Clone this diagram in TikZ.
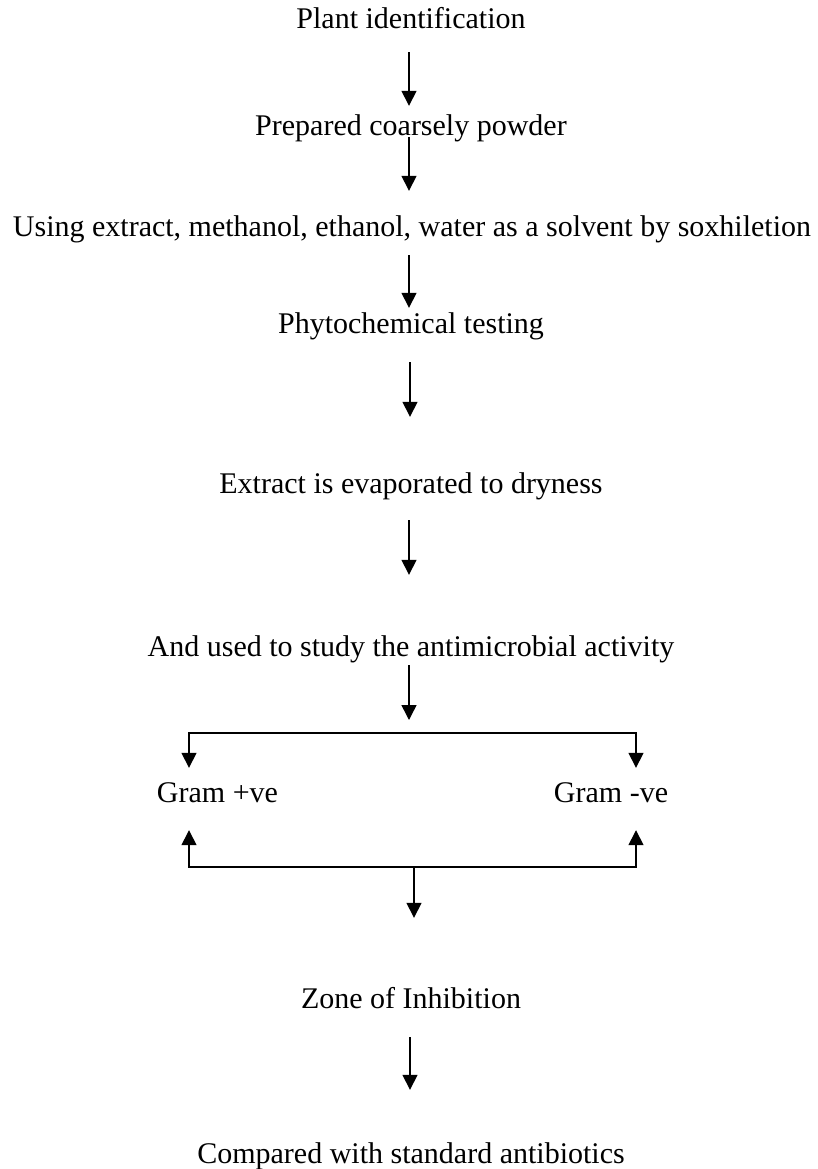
\documentclass[tikz,border=0pt]{standalone}
\usepackage{fontspec}
\setmainfont{Liberation Serif}
\usepackage{tikz}
\usetikzlibrary{arrows.meta,calc,positioning}

\begin{document}
\begin{tikzpicture}[x=1pt,y=-1pt,
  lbl/.style={anchor=base,inner sep=0pt,text height=20pt,text depth=6pt,font=\fontsize{30}{36}\selectfont},
  arr/.style={line width=1.5pt,-{Triangle[length=15pt,width=15pt]}},
  arrtwo/.style={line width=1.5pt,{Triangle[length=15pt,width=15pt]}-{Triangle[length=15pt,width=15pt]}}]
\useasboundingbox (0,0) rectangle (817,1169);
\node[lbl] (plant) at (411,29){Plant identification};
\node[lbl] (prep) at (411,136){Prepared coarsely powder};
\node[lbl] (using) at (412,236){Using extract, methanol, ethanol, water as a solvent by soxhiletion};
\node[lbl] (phyto) at (411,333){Phytochemical testing};
\node[lbl] (evap) at (411,493){Extract is evaporated to dryness};
\node[lbl] (study) at (411,656){And used to study the antimicrobial activity};
\node[lbl] (gpos) at (217.5,802){Gram +ve};
\node[lbl] (gneg) at (611,802){Gram -ve};
\node[lbl] (zone) at (411,1008){Zone of Inhibition};
\node[lbl] (comp) at (411,1163){Compared with standard antibiotics};
\coordinate (split) at (409,733);
\coordinate (join) at (414,867);
% main column
\draw[arr,shorten <=17pt,shorten >=10pt] ([xshift=-2pt]plant.south) -- ([xshift=-2pt]prep.north);
\draw[arr,shorten <=-5pt,shorten >=25pt] ([xshift=-2pt]prep.south) -- ([xshift=-3pt]using.north);
\draw[arr,shorten <=13pt,shorten >=5pt] ([xshift=-3pt]using.south) -- ([xshift=-2pt]phyto.north);
\draw[arr,shorten <=23pt,shorten >=56pt] ([xshift=-1pt]phyto.south) -- ([xshift=-1pt]evap.north);
\draw[arr,shorten <=21pt,shorten >=61pt] ([xshift=-2pt]evap.south) -- ([xshift=-2pt]study.north);
\draw[arr,shorten <=3pt,shorten >=13pt] ([xshift=-2pt]study.south) -- (split);
% branches
\draw[arrtwo] ([xshift=-28.5pt,yshift=14pt]gpos.north) |- (split) -| ([xshift=25pt,yshift=14pt]gneg.north);
\draw[arrtwo] ([xshift=-28.5pt,yshift=-22pt]gpos.south) |- (join) -| ([xshift=25pt,yshift=-22pt]gneg.south);
\draw[arr,shorten >=70pt] (join) -- (join |- zone.north);
\draw[arr,shorten <=23pt,shorten >=53pt] ([xshift=-1pt]zone.south) -- ([xshift=-1pt]comp.north);
\end{tikzpicture}
\end{document}
